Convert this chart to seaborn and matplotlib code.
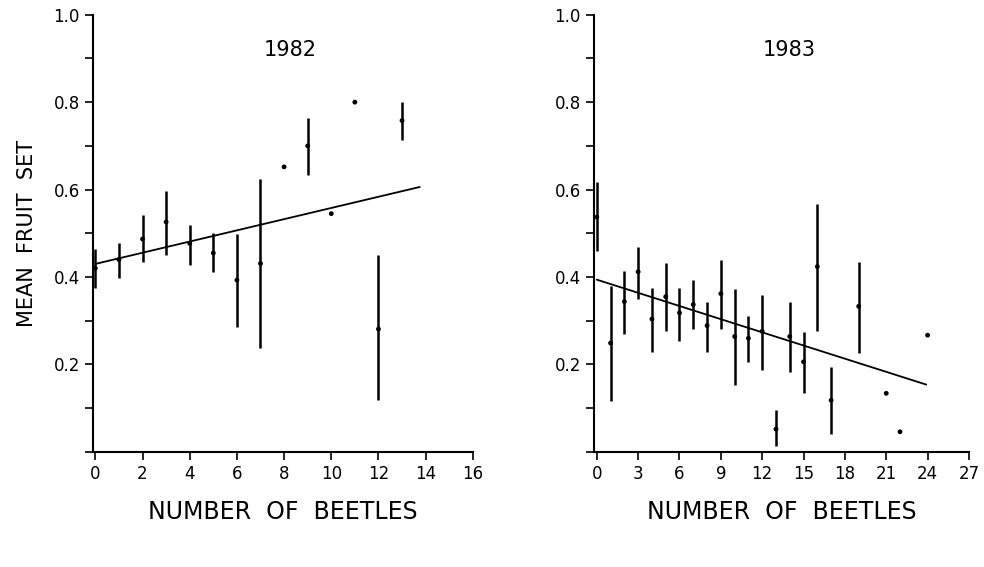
import numpy as np
import pandas as pd
import matplotlib
matplotlib.use("Agg")
import matplotlib.pyplot as plt
import seaborn as sns
from matplotlib.ticker import MultipleLocator

# 1982 panel
beetles_82 = [0, 1, 2, 3, 4, 5, 6, 7, 8, 9, 10, 11, 12, 13]
fruit_82 = [0.42, 0.44, 0.487, 0.526, 0.477, 0.455, 0.393, 0.431, 0.652, 0.70, 0.545, 0.80, 0.281, 0.758]
hi_82 = [0.464, 0.477, 0.541, 0.596, 0.52, 0.50, 0.498, 0.625, np.nan, 0.763, np.nan, np.nan, 0.451, 0.80]
lo_82 = [0.376, 0.397, 0.435, 0.451, 0.427, 0.412, 0.285, 0.237, np.nan, 0.633, np.nan, np.nan, 0.118, 0.713]
fit_x_82 = [0, 13.75]
fit_y_82 = [0.43, 0.606]

# 1983 panel
beetles_83 = [0, 1, 2, 3, 4, 5, 6, 7, 8, 9, 10, 11, 12, 13, 14, 15, 16, 17, 19, 21, 22, 24]
fruit_83 = [0.537, 0.249, 0.344, 0.412, 0.304, 0.355, 0.318, 0.337, 0.289, 0.362, 0.264,
            0.260, 0.276, 0.052, 0.264, 0.206, 0.424, 0.118, 0.333, 0.134, 0.046, 0.267]
hi_83 = [0.617, 0.380, 0.414, 0.469, 0.376, 0.431, 0.376, 0.394, 0.344, 0.440, 0.373,
         0.310, 0.359, 0.095, 0.344, 0.275, 0.567, 0.195, 0.434, np.nan, np.nan, np.nan]
lo_83 = [0.460, 0.117, 0.269, 0.350, 0.229, 0.277, 0.254, 0.281, 0.229, 0.281, 0.153,
         0.205, 0.188, 0.014, 0.183, 0.134, 0.276, 0.040, 0.227, np.nan, np.nan, np.nan]
fit_x_83 = [0, 23.9]
fit_y_83 = [0.394, 0.154]

sns.set_style("ticks")
plt.rcParams['font.family'] = ['DejaVu Sans']
plt.rcParams['text.color'] = 'black'

fig = plt.figure(figsize=(9.84, 5.67), dpi=100)
ax1 = fig.add_axes([0.0945, 0.203, 0.386, 0.771])
ax2 = fig.add_axes([0.6037, 0.203, 0.381, 0.771])

panels = [
    (ax1, beetles_82, fruit_82, hi_82, lo_82, fit_x_82, fit_y_82, "1982", (-0.1, 16), 2),
    (ax2, beetles_83, fruit_83, hi_83, lo_83, fit_x_83, fit_y_83, "1983", (-0.2, 27), 3),
]

for ax, x, y, hi, lo, fx, fy, title, xlim, step in panels:
    df = pd.DataFrame({"beetles": x, "fruit": y, "hi": hi, "lo": lo})
    bars = df.dropna()
    ax.vlines(bars["beetles"], bars["lo"], bars["hi"], color="black", lw=1.8)
    sns.scatterplot(data=df, x="beetles", y="fruit", ax=ax, color="black",
                    s=12, edgecolor="none", zorder=3)
    sns.lineplot(x=fx, y=fy, ax=ax, color="black", lw=1.3)
    ax.set_xlim(*xlim)
    ax.set_ylim(0, 1.0)
    ax.xaxis.set_major_locator(MultipleLocator(step))
    ax.yaxis.set_minor_locator(MultipleLocator(0.1))
    ax.set_yticks([0.2, 0.4, 0.6, 0.8, 1.0])
    ax.set_yticklabels(["0.2", "0.4", "0.6", "0.8", "1.0"])
    ax.tick_params(axis="both", which="major", direction="out", length=6, width=1.2,
                   labelsize=12, color="black", labelcolor="black")
    ax.tick_params(axis="y", which="minor", direction="out", length=6, width=1.2, color="black")
    ax.set_xlabel("NUMBER  OF  BEETLES", fontsize=17, labelpad=12, color="black")
    ax.set_ylabel("")
    ax.text(0.52, 0.92, title, transform=ax.transAxes, fontsize=15, ha="center",
            va="center", color="black")
    for s in ["left", "bottom"]:
        ax.spines[s].set_linewidth(1.5)
        ax.spines[s].set_color("black")
    sns.despine(ax=ax)

ax1.set_ylabel("MEAN  FRUIT  SET", fontsize=15, labelpad=12, color="black")

fig.savefig("out.png", dpi=100, facecolor="white")
